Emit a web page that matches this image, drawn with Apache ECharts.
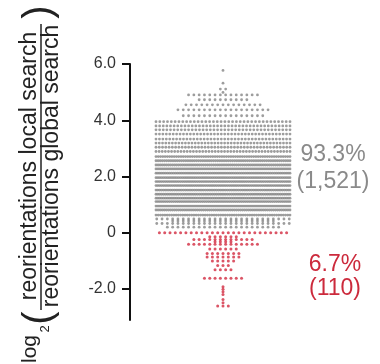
<!DOCTYPE html>
<html>
<head>
<meta charset="utf-8">
<script src="https://cdn.jsdelivr.net/npm/echarts@6/dist/echarts.min.js"></script>
<style>
html, body { margin: 0; padding: 0; background: #fff; }
#chart { width: 380px; height: 364px; }
</style>
</head>
<body>
<div id="chart"></div>
<script>
// swarm rows: log2 ratio of each row and how many points sit on it
var grayLevels = [5.77, 5.32, 5.11, 4.99, 4.90, 4.73, 4.55, 4.37, 4.16,
    3.95, 3.80, 3.66, 3.51, 3.33, 3.19, 3.04, 2.89,
    2.71, 2.56, 2.41, 2.27, 2.12, 1.96, 1.82, 1.68, 1.52, 1.37, 1.23, 1.11, 0.95, 0.81, 0.63,
    0.49, 0.42, 0.33, 0.20];
var grayCounts = [1, 1, 2, 1, 14, 10, 15, 18, 16,
    36, 38, 38, 40, 40, 42, 42, 44,
    60, 64, 66, 68, 70, 72, 72, 74, 74, 72, 72, 70, 68, 66, 61,
    26, 20, 26, 22];
var redLevels = [0, -0.14, -0.24, -0.32, -0.41, -0.58, -0.74, -0.86, -1.00, -1.16, -1.31,
    -1.62, -1.92, -2.01, -2.10, -2.19, -2.37, -2.49, -2.60];
var redCounts = [25, 6, 12, 4, 14, 6, 7, 7, 5, 3, 4, 8, 1, 1, 1, 1, 1, 1, 3];

var yTicks = [-2, 0, 2, 4, 6];
var yTickLabels = ['-2.0', '0', '2.0', '4.0', '6.0'];

var aboveLabel = ['93.3%', '(1,521)'];
var belowLabel = ['6.7%', '(110)'];

var FONT = "'Liberation Sans', Arial, sans-serif";

// lay out each row side by side around the centre (x axis is in pixels)
function swarm(levels, counts) {
    var pts = [];
    for (var k = 0; k < levels.length; k++) {
        var n = counts[k];
        var s = n > 1 ? Math.min(5.3, 134 / (n - 1)) : 0;
        for (var i = 0; i < n; i++) {
            pts.push([(i - (n - 1) / 2) * s, levels[k]]);
        }
    }
    return pts;
}

function rotText(txt, x, y, size) {
    return {
        type: 'text', x: x, y: y, rotation: Math.PI / 2,
        style: { text: txt, font: size + 'px ' + FONT, fill: '#222', textAlign: 'center', textVerticalAlign: 'middle' }
    };
}

function flatText(txt, x, y, color) {
    return {
        type: 'text', x: x, y: y,
        style: { text: txt, font: '23px ' + FONT, fill: color, textAlign: 'center', textVerticalAlign: 'middle' }
    };
}

var myChart = echarts.init(document.getElementById('chart'));

var option = {
    animation: false,
    grid: { left: 130, right: 64, top: 64, bottom: 44 },
    xAxis: { type: 'value', min: -93, max: 93, show: false },
    yAxis: {
        type: 'value',
        min: -3.1,
        max: 6,
        splitLine: { show: false },
        axisLine: { show: true, onZero: false, lineStyle: { color: '#111', width: 2 } },
        axisTick: {
            show: true, length: 8, customValues: yTicks,
            lineStyle: { color: '#111', width: 2 }
        },
        axisLabel: {
            customValues: yTicks,
            margin: 14,
            fontSize: 16,
            fontFamily: FONT,
            color: '#333',
            formatter: function (v) {
                var i = yTicks.indexOf(v);
                return i >= 0 ? yTickLabels[i] : '';
            }
        }
    },
    series: [
        {
            type: 'scatter',
            data: swarm(grayLevels, grayCounts),
            symbolSize: 2.8,
            silent: true,
            itemStyle: { color: '#858585' }
        },
        {
            type: 'scatter',
            data: swarm(redLevels, redCounts),
            symbolSize: 3,
            silent: true,
            itemStyle: { color: '#d22a40' }
        }
    ],
    graphic: [
        // y axis title: log2( local / global )
        rotText('reorientations local search', 30, 166, 23),
        rotText('reorientations global search', 52, 166, 23),
        { type: 'line', shape: { x1: 41, y1: 24, x2: 41, y2: 310 },
          style: { stroke: '#222', lineWidth: 1.5 } },
        rotText('log', 30, 349, 21),
        rotText('2', 45, 329, 13),
        rotText('(', 40, 318, 40),
        rotText(')', 40, 12, 40),
        // share of points above / below zero
        flatText(aboveLabel[0], 333, 155, '#8a8a8a'),
        flatText(aboveLabel[1], 333, 182, '#8a8a8a'),
        flatText(belowLabel[0], 335, 265, '#cc2a3c'),
        flatText(belowLabel[1], 335, 289, '#cc2a3c')
    ]
};

myChart.setOption(option);
</script>
</body>
</html>
